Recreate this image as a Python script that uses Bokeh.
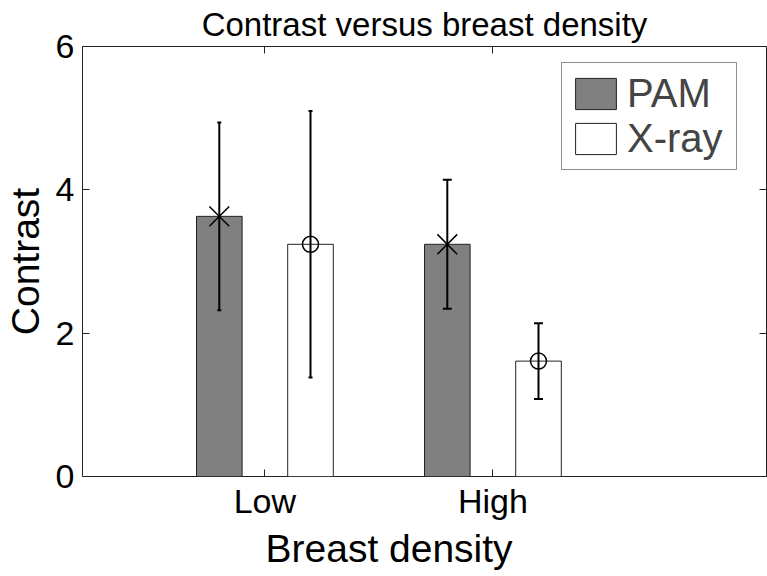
from bokeh.plotting import figure
from bokeh.models import (ColumnDataSource, FixedTicker, LinearAxis, Range1d, Legend, LegendItem, Title)
from bokeh.embed import file_html
from bokeh.resources import INLINE

# ---- data ----
categories = ["Low", "High"]
pam_mean = [3.63, 3.24]
pam_sd = [1.31, 0.90]
xray_mean = [3.24, 1.61]
xray_sd = [1.86, 0.53]
y_ticks = [0, 2, 4, 6]

FONT = "Liberation Sans"
x_start, x_end = 0.2, 3.2
offset, bar_w = 0.2, 0.2

idx = [i + 1 for i in range(len(categories))]
pam_x = [i - offset for i in idx]
xray_x = [i + offset for i in idx]

def src(xs, m, s):
    return ColumnDataSource(dict(x=xs, top=m,
                                 lo=[a - b for a, b in zip(m, s)],
                                 hi=[a + b for a, b in zip(m, s)],
                                 cap=[4 if c == "Low" else 9 for c in categories]))

pam_src = src(pam_x, pam_mean, pam_sd)
xray_src = src(xray_x, xray_mean, xray_sd)

p = figure(width=767, height=576, output_backend="svg", toolbar_location=None,
           x_range=Range1d(x_start, x_end), y_range=Range1d(0, 6),
           min_border_left=82, min_border_right=1, min_border_top=45, min_border_bottom=100,
           title="Contrast versus breast density")
p.title.align = "center"
p.title.text_font = FONT
p.title.text_font_size = "33px"
p.title.text_font_style = "normal"
p.title.text_color = "black"
p.title.standoff = 7
p.xgrid.visible = False
p.ygrid.visible = False
p.outline_line_color = "#222222"
p.outline_line_width = 1
p.background_fill_color = "white"
p.border_fill_color = "white"

r_pam = p.vbar(x="x", top="top", width=bar_w, bottom=0, source=pam_src,
               fill_color="#808080", line_color="#222222", line_width=1)
r_xray = p.vbar(x="x", top="top", width=bar_w, bottom=0, source=xray_src,
                fill_color="white", line_color="#222222", line_width=1)

for s in (pam_src, xray_src):
    p.segment(x0="x", y0="lo", x1="x", y1="hi", source=s, line_color="black", line_width=2)
    p.scatter(x="x", y="lo", size="cap", marker="dash", source=s, line_color="black", line_width=2)
    p.scatter(x="x", y="hi", size="cap", marker="dash", source=s, line_color="black", line_width=2)

p.scatter(x="x", y="top", marker="x", size=28, source=pam_src, line_color="black", line_width=1.5)
p.scatter(x="x", y="top", marker="circle", size=16, source=xray_src, fill_color=None,
          line_color="black", line_width=1.5)

# axes
xax = p.xaxis[0]
xax.ticker = FixedTicker(ticks=idx)
xax.major_label_overrides = {i: c for i, c in zip(idx, categories)}
yax = p.yaxis[0]
yax.ticker = FixedTicker(ticks=y_ticks)
for ax in (xax, yax):
    ax.major_tick_in = 7
    ax.major_tick_out = 0
    ax.minor_tick_line_color = None
    ax.axis_line_color = None
    ax.major_tick_line_color = "#222222"
    ax.major_label_text_font = FONT
    ax.major_label_text_font_size = "34px"
    ax.major_label_text_color = "black"
    ax.axis_label_text_font = FONT
    ax.axis_label_text_font_size = "39px"
    ax.axis_label_text_font_style = "normal"
    ax.axis_label_text_color = "black"
yax.axis_label = "Contrast"
xax.major_label_standoff = 5
yax.major_label_standoff = 8
yax.axis_label_standoff = 6

# x-axis label (placed slightly left of centre, as in the reference)
p.add_layout(Title(text="Breast density", align="left", offset=183,
                   text_font=FONT, text_font_size="39px", text_font_style="normal",
                   text_color="black", standoff=4), "below")

# tick marks on the top and right edges (no labels)
top_ax = LinearAxis(ticker=FixedTicker(ticks=idx))
right_ax = LinearAxis(ticker=FixedTicker(ticks=y_ticks))
for ax in (top_ax, right_ax):
    ax.major_tick_in = 7
    ax.major_tick_out = 0
    ax.minor_tick_line_color = None
    ax.axis_line_color = None
    ax.major_tick_line_color = "#222222"
    ax.major_label_text_font_size = "0px"
    ax.major_label_text_color = None
    ax.major_label_standoff = 0
p.add_layout(top_ax, "above")
p.add_layout(right_ax, "right")

legend = Legend(items=[LegendItem(label="PAM", renderers=[r_pam]),
                       LegendItem(label="X-ray", renderers=[r_xray])],
                location=(479, 306), glyph_width=51, glyph_height=39,
                label_text_font=FONT, label_text_font_size="40px", label_standoff=6,
                label_text_line_height=1.0, label_height=39, label_width=101,
                padding=8, spacing=0, margin=0,
                border_line_color="#222222", border_line_width=1,
                background_fill_color="white", background_fill_alpha=1)
p.add_layout(legend)

open("out.html", "w").write(file_html(p, INLINE))
